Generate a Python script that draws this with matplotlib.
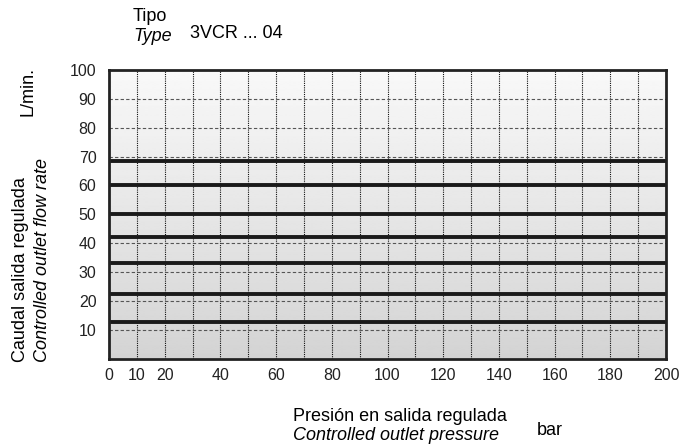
import numpy as np
import matplotlib.pyplot as plt

plt.rcParams['font.family'] = ['Liberation Sans', 'DejaVu Sans']

# pressure axis (bar) and flow axis (L/min)
x_ticks = [0, 10, 20, 40, 60, 80, 100, 120, 140, 160, 180, 200]
y_ticks = [10, 20, 30, 40, 50, 60, 70, 80, 90, 100]
# flow levels of the 3VCR ... 04 curves (constant over pressure)
flow_levels = [68.5, 60, 50, 42, 33, 22.5, 12.5]
pressure_range = [0, 200]

W, H = 697, 447
fig = plt.figure(figsize=(W / 100, H / 100), dpi=100)
ax = fig.add_axes([109 / W, 1 - 358.5 / H, (666 - 109) / W, (358.5 - 70) / H])

# light-to-dark vertical gradient background
grad = np.linspace(0.83, 0.975, 256).reshape(-1, 1)
ax.imshow(grad, extent=[0, 200, 0, 100], origin='lower', aspect='auto',
          cmap='gray', vmin=0, vmax=1, zorder=0, interpolation='bilinear')

for xv in range(10, 200, 10):
    ax.axvline(xv, color='#111111', lw=0.8, ls=(0, (1, 1)), zorder=1)
for yv in range(10, 100, 10):
    ax.axhline(yv, color='#555555', lw=0.8, ls=(0, (3, 2)), zorder=1)

for q in flow_levels:
    ax.plot(pressure_range, [q, q], color='#1a1a1a', lw=2.8, zorder=2,
            solid_capstyle='butt')

ax.set_xlim(0, 200)
ax.set_ylim(0, 100)
ax.set_xticks(x_ticks)
ax.set_yticks(y_ticks)
ax.tick_params(length=0, labelsize=11.5, colors='#222222')
ax.tick_params(axis='x', pad=6.5)
ax.tick_params(axis='y', pad=9)
for s in ax.spines.values():
    s.set_linewidth(2)
    s.set_color('#222222')

fs = 13
fig.text(133 / W, 1 - 21 / H, 'Tipo', fontsize=fs, ha='left', va='baseline')
fig.text(133 / W, 1 - 41 / H, 'Type', fontsize=fs, style='italic', ha='left', va='baseline')
fig.text(190 / W, 1 - 38 / H, '3VCR ... 04', fontsize=fs, ha='left', va='baseline')

fig.text(21 / W, 1 - 362 / H, 'Caudal salida regulada', fontsize=fs,
         rotation=90, ha='center', va='bottom')
fig.text(42.5 / W, 1 - 362 / H, 'Controlled outlet flow rate', fontsize=fs,
         style='italic', rotation=90, ha='center', va='bottom')
fig.text(28 / W, 1 - 91 / H, 'L/min.', fontsize=fs, rotation=90,
         ha='center', va='center')

fig.text(293 / W, 1 - 421 / H, 'Presión en salida regulada', fontsize=fs,
         ha='left', va='baseline')
fig.text(293 / W, 1 - 440 / H, 'Controlled outlet pressure', fontsize=fs,
         style='italic', ha='left', va='baseline')
fig.text(537 / W, 1 - 435 / H, 'bar', fontsize=fs, ha='left', va='baseline')

fig.savefig('out.png', dpi=100)
